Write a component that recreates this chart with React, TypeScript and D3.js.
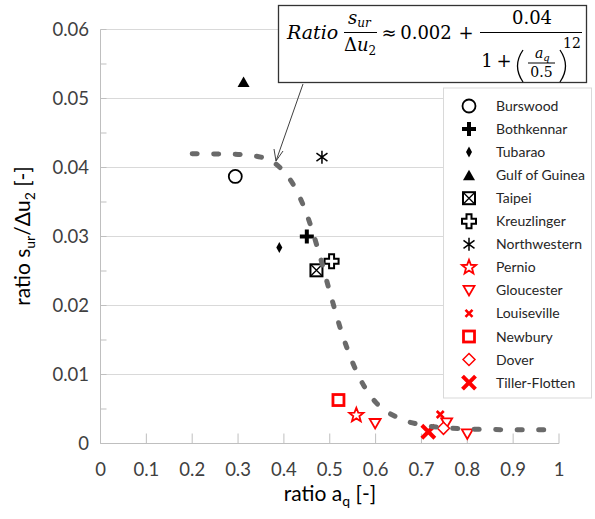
import React from "react";
import * as d3 from "d3";

// ---- data ----
const xTicks = [0, 0.1, 0.2, 0.3, 0.4, 0.5, 0.6, 0.7, 0.8, 0.9, 1];
const xTickLabels = ["0", "0.1", "0.2", "0.3", "0.4", "0.5", "0.6", "0.7", "0.8", "0.9", "1"];
const yTicks = [0, 0.01, 0.02, 0.03, 0.04, 0.05, 0.06];
const yTickLabels = ["0", "0.01", "0.02", "0.03", "0.04", "0.05", "0.06"];
const yMinorTicks = [0.005, 0.015, 0.025, 0.035, 0.045, 0.055];

const burswood = [[0.294, 0.0387]];
const bothkennar = [[0.45, 0.0300]];
const tubarao = [[0.39, 0.0284]];
const gulfOfGuinea = [[0.312, 0.0524]];
const taipei = [[0.471, 0.0251]];
const kreuzlinger = [[0.504, 0.0264]];
const northwestern = [[0.483, 0.0415]];
const pernio = [[0.558, 0.0041]];
const gloucester = [[0.599, 0.0029], [0.755, 0.0030], [0.80, 0.0014]];
const louiseville = [[0.741, 0.0042]];
const newbury = [[0.519, 0.0063]];
const dover = [[0.748, 0.0022]];
const tillerFlotten = [[0.715, 0.0017]];

const fitX = [0.2, 0.3, 0.35, 0.4, 0.425, 0.45, 0.475, 0.5, 0.525, 0.55, 0.575, 0.6, 0.65, 0.7, 0.75, 0.8, 0.9, 1.0];
const fitY = [0.042, 0.0419, 0.0415, 0.0394, 0.037, 0.0332, 0.028, 0.022, 0.0163, 0.0117, 0.0083, 0.006, 0.0037, 0.0027, 0.0023, 0.0021, 0.002, 0.002];

const seriesNames = ["Burswood", "Bothkennar", "Tubarao", "Gulf of Guinea", "Taipei", "Kreuzlinger", "Northwestern", "Pernio", "Gloucester", "Louiseville", "Newbury", "Dover", "Tiller-Flotten"];
const seriesData = [burswood, bothkennar, tubarao, gulfOfGuinea, taipei, kreuzlinger, northwestern, pernio, gloucester, louiseville, newbury, dover, tillerFlotten];

const RED = "#ff0000";
const FONT = "Lato, 'Open Sans', sans-serif";

function starPath(R: number, r: number) {
  const pts: string[] = [];
  for (let i = 0; i < 10; i++) {
    const a = (Math.PI / 5) * i - Math.PI / 2;
    const rad = i % 2 === 0 ? R : r;
    pts.push(`${(Math.cos(a) * rad).toFixed(2)},${(Math.sin(a) * rad).toFixed(2)}`);
  }
  return "M" + pts.join("L") + "Z";
}

function Marker({ kind, x, y }: { kind: number; x: number; y: number }) {
  const t = `translate(${x},${y})`;
  switch (kind) {
    case 0:
      return <circle transform={t} r={6.5} fill="#fff" stroke="#000" strokeWidth={1.8} />;
    case 1:
      return <path transform={t} d="M-7,0H7M0,-7V7" stroke="#000" strokeWidth={4} fill="none" />;
    case 2:
      return <path transform={t} d="M0,-5.5L3,0L0,5.5L-3,0Z" fill="#000" />;
    case 3:
      return <path transform={t} d="M0,-5.5L6,5L-6,5Z" fill="#000" />;
    case 4:
      return (
        <g transform={t}>
          <rect x={-6} y={-6} width={12} height={12} fill="#fff" stroke="#000" strokeWidth={2} />
          <path d="M-6,-6L6,6M6,-6L-6,6" stroke="#000" strokeWidth={1.3} />
        </g>
      );
    case 5:
      return (
        <path
          transform={t}
          d="M-2.5,-7H2.5V-2.5H7V2.5H2.5V7H-2.5V2.5H-7V-2.5H-2.5Z"
          fill="#fff"
          stroke="#000"
          strokeWidth={2}
        />
      );
    case 6:
      return <path transform={t} d="M0,-6.5V6.5M-5.5,-4L5.5,4M-5.5,4L5.5,-4" stroke="#000" strokeWidth={1.5} />;
    case 7:
      return <path transform={t} d={starPath(7.5, 3.2)} fill="#fff" stroke={RED} strokeWidth={1.8} />;
    case 8:
      return <path transform={t} d="M-5.5,-4.5L5.5,-4.5L0,5Z" fill="#fff" stroke={RED} strokeWidth={1.8} />;
    case 9:
      return <path transform={t} d="M-3.5,-3.5L3.5,3.5M3.5,-3.5L-3.5,3.5" stroke={RED} strokeWidth={2.6} />;
    case 10:
      return <rect transform={t} x={-5.5} y={-5.5} width={11} height={11} fill="#fff" stroke={RED} strokeWidth={2.8} />;
    case 11:
      return <path transform={t} d="M0,-6L6,0L0,6L-6,0Z" fill="#fff" stroke={RED} strokeWidth={1.5} />;
    case 12:
      return <path transform={t} d="M-6.5,-6.5L6.5,6.5M6.5,-6.5L-6.5,6.5" stroke={RED} strokeWidth={4} />;
    default:
      return null;
  }
}

export default function App() {
  const W = 595, H = 519;
  const x = d3.scaleLinear().domain([0, 1]).range([100.5, 559]);
  const y = d3.scaleLinear().domain([0, 0.06]).range([443.5, 29.5]);

  const fitLine = d3
    .line<number>()
    .x((_, i) => x(fitX[i]))
    .y((d) => y(d))
    .curve(d3.curveMonotoneX)(fitY) as string;

  const legendX = 443.5, legendTop = 88, rowH = 23.05, firstRow = 106;

  return (
    <svg width={W} height={H} style={{ position: "absolute", left: 0, top: 0, background: "#fff" }}>
      {/* gridlines */}
      {yTicks.slice(1).map((v) => (
        <line key={"g" + v} x1={x(0)} x2={x(1)} y1={y(v)} y2={y(v)} stroke="#d9d9d9" strokeWidth={1} />
      ))}
      {/* y axis */}
      <line x1={x(0)} x2={x(0)} y1={y(0.06)} y2={y(0)} stroke="#bfbfbf" strokeWidth={1} />
      {yMinorTicks.map((v) => (
        <line key={"m" + v} x1={x(0)} x2={x(0) + 6} y1={y(v)} y2={y(v)} stroke="#bfbfbf" strokeWidth={1} />
      ))}
      {yTicks.map((v) => (
        <line key={"mt" + v} x1={x(0)} x2={x(0) + 6} y1={y(v)} y2={y(v)} stroke="#bfbfbf" strokeWidth={1} />
      ))}
      {/* x axis */}
      <line x1={x(0)} x2={x(1)} y1={y(0)} y2={y(0)} stroke="#bfbfbf" strokeWidth={1} />
      {xTicks.map((v) => (
        <line key={"xt" + v} x1={x(v)} x2={x(v)} y1={y(0)} y2={y(0) - 10} stroke="#bfbfbf" strokeWidth={1} />
      ))}
      {/* tick labels */}
      {xTicks.map((v, i) => (
        <text key={"xl" + v} x={x(v)} y={475.5} textAnchor="middle" fontFamily={FONT} fontSize={18.5} fill="#404040">
          {xTickLabels[i]}
        </text>
      ))}
      {yTicks.map((v, i) => (
        <text key={"yl" + v} x={89} y={y(v) + 6.5} textAnchor="end" fontFamily={FONT} fontSize={18.5} fill="#404040">
          {yTickLabels[i]}
        </text>
      ))}
      {/* axis titles */}
      <text x={330} y={500.5} textAnchor="middle" fontFamily={FONT} fontSize={21} fill="#000">
        ratio a<tspan fontSize={14} dy={5}>q</tspan>
        <tspan dy={-5}> [-]</tspan>
      </text>
      <text transform="translate(30,236) rotate(-90)" textAnchor="middle" fontFamily={FONT} fontSize={21} fill="#000">
        ratio s<tspan fontSize={14} dy={5}>ur</tspan>
        <tspan dy={-5}>/Δu</tspan>
        <tspan fontSize={14} dy={5}>2</tspan>
        <tspan dy={-5}> [-]</tspan>
      </text>

      {/* markers */}
      {seriesData.map((pts, k) =>
        pts.map((p, j) => <Marker key={k + "-" + j} kind={k} x={x(p[0])} y={y(p[1])} />)
      )}

      {/* fitted curve */}
      <path d={fitLine} fill="none" stroke="#6a6a6a" strokeWidth={5} strokeDasharray="5 16.5" strokeLinecap="round" />

      {/* legend */}
      <rect x={legendX} y={legendTop} width={148} height={310} fill="#fff" stroke="#d9d9d9" strokeWidth={1} />
      {seriesNames.map((n, i) => (
        <g key={n}>
          <Marker kind={i} x={469} y={firstRow + i * rowH} />
          <text x={496} y={firstRow + i * rowH + 5} fontFamily={FONT} fontSize={14} fill="#262626">
            {n}
          </text>
        </g>
      ))}

      {/* arrow */}
      <line x1={303} y1={84} x2={276} y2={161} stroke="#404040" strokeWidth={1} />
      <path d="M274,149L276,161L283,151" fill="none" stroke="#404040" strokeWidth={1} />

      {/* formula box */}
      <rect x={278.5} y={5.5} width={308} height={77} fill="#fff" stroke="#333" strokeWidth={1.3} />
      <g fontFamily="'DejaVu Serif', 'Liberation Serif', serif" fill="#000">
        <text x={287} y={39} fontSize={19} fontStyle="italic">Ratio</text>
        <text x={348} y={24} fontSize={18} fontStyle="italic">
          s<tspan fontSize={12} dy={3}>ur</tspan>
        </text>
        <line x1={344} x2={377} y1={32.5} y2={32.5} stroke="#000" strokeWidth={1} />
        <text x={344} y={51} fontSize={18}>
          Δ<tspan fontStyle="italic">u</tspan>
          <tspan fontSize={12} dy={4}>2</tspan>
        </text>
        <text x={389} y={39} fontSize={18} textAnchor="middle">≈</text>
        <text x={426} y={39} fontSize={18} textAnchor="middle">0.002</text>
        <text x={466} y={39} fontSize={18} textAnchor="middle">+</text>
        <line x1={480} x2={582} y1={32.5} y2={32.5} stroke="#000" strokeWidth={1} />
        <text x={532} y={24} fontSize={18} textAnchor="middle">0.04</text>
        <text x={487} y={67} fontSize={18} textAnchor="middle">1</text>
        <text x={504} y={67} fontSize={18} textAnchor="middle">+</text>
        <path d="M523,50Q512,66 523,82" fill="none" stroke="#000" strokeWidth={1.3} />
        <path d="M560,50Q571,66 560,82" fill="none" stroke="#000" strokeWidth={1.3} />
        <text x={535} y={58} fontSize={14} fontStyle="italic">
          a<tspan fontSize={10} dy={3}>q</tspan>
        </text>
        <line x1={528} x2={555} y1={63} y2={63} stroke="#000" strokeWidth={1} />
        <text x={541.5} y={77} fontSize={14} textAnchor="middle">0.5</text>
        <text x={572} y={48} fontSize={14} textAnchor="middle">12</text>
      </g>
    </svg>
  );
}
